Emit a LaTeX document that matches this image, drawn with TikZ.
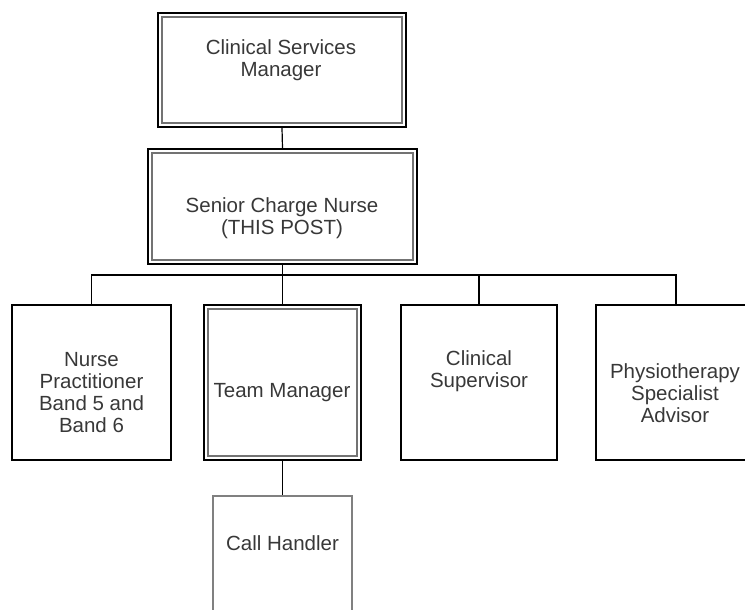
\documentclass[tikz,border=0pt]{standalone}
\usepackage{fontspec}
\setmainfont{Liberation Sans}
\usepackage{tikz}
\usetikzlibrary{calc}
\tikzset{
  post/.style={rectangle, draw=black, line width=1.2pt, minimum width=157pt, minimum height=155pt, inner sep=0pt},
  dpost/.style={post, line width=1.6pt},
  inset/.style={draw=black!55, line width=2pt},
  txt/.style={text=black!78, align=center, inner sep=0pt, font=\fontsize{20.5}{22}\selectfont},
  link/.style={draw=black, line width=1.2pt}
}

\begin{document}
\begin{tikzpicture}[x=1pt, y=-1pt]
\useasboundingbox (0,0) rectangle (745,610);
\clip (0,0) rectangle (745,610);
% Top: manager and this post
\node[dpost, minimum width=248pt, minimum height=114pt] (csm) at (282,70) {};
\node[txt] (csm-txt) at (281,60) {Clinical Services\\Manager};
\node[dpost, minimum width=269pt, minimum height=115pt] (scn) at (282.5,206.5) {};
\node[txt] (scn-txt) at (282,218.5) {Senior Charge Nurse\\(THIS POST)};

% Row of posts below
\coordinate (bus) at (282.5,275);
\node[post, minimum width=159pt] (np) at (91.5,382.5) {};
\node[txt] (np-txt) at (91.5,392.5) {Nurse\\Practitioner\\Band 5 and\\Band 6};
\node[dpost] (tm) at (282.5,382.5) {};
\node[txt] (tm-txt) at (282,393) {Team Manager};
\node[post, minimum width=156pt] (cs) at (479,382.5) {};
\node[txt] (cs-txt) at (479,371.5) {Clinical\\Supervisor};
\node[post, minimum width=160pt] (psa) at (676,382.5) {};
\node[txt] (psa-txt) at (675,393.5) {Physiotherapy\\Specialist\\Advisor};

% Under team manager
\node[post, draw=black!50, minimum width=139pt, minimum height=144pt] (ch) at (282.5,568) {};
\node[txt] (ch-txt) at (282.5,543) {Call Handler};

% inner lines of the double boxes
\foreach \n in {csm,scn,tm}
  \draw[inset] ($(\n.north west)+(5,5)$) rectangle ($(\n.south east)+(-5,-5)$);

% connectors
\draw[link] (csm.south) -- (scn.north);
\draw[link] (scn.south) -- (tm.north);
\draw[link] (np.north) |- (psa.north |- bus) -- (psa.north);
\draw[link] (cs.north) -- (cs.north |- bus);
\draw[link] (tm.south) -- (ch.north);
\end{tikzpicture}
\end{document}
